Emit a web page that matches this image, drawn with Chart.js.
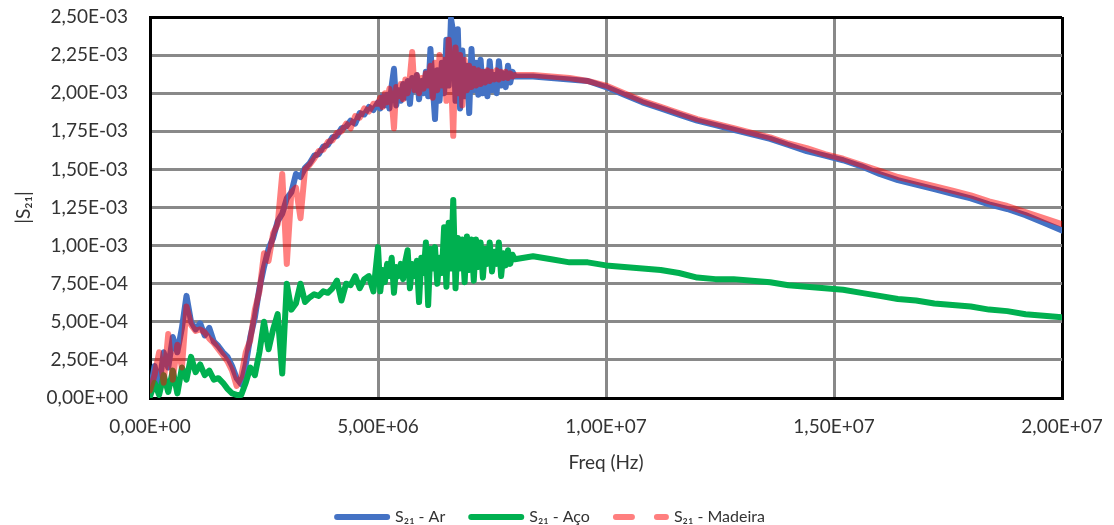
<!DOCTYPE html>
<html>
<head>
<meta charset="utf-8">
<script src="https://cdn.jsdelivr.net/npm/chart.js@4.4.1/dist/chart.umd.min.js"></script>
<style>
  html, body { margin: 0; padding: 0; background: #fff; }
  #wrap { width: 1114px; height: 525px; position: relative; }
</style>
</head>
<body>
<div id="wrap"><canvas id="chart"></canvas></div>
<script>
// frequency in MHz (axis labels are printed in Hz)
const freqMHz = [
  0.0, 0.1, 0.2, 0.3, 0.4, 0.5, 0.6, 0.7, 0.8, 0.9,
  1.0, 1.1, 1.2, 1.3, 1.4, 1.5, 1.6, 1.7, 1.8, 1.9,
  2.0, 2.1, 2.2, 2.3, 2.4, 2.5, 2.6, 2.7, 2.8, 2.9,
  3.0, 3.1, 3.2, 3.3, 3.4, 3.5, 3.6, 3.7, 3.8, 3.9,
  4.0, 4.1, 4.2, 4.3, 4.4, 4.5, 4.6, 4.7, 4.8, 4.9,
  5.00, 5.05, 5.10, 5.15, 5.20, 5.25, 5.30, 5.35, 5.40, 5.45,
  5.50, 5.55, 5.60, 5.65, 5.70, 5.75, 5.80, 5.85, 5.90, 5.95,
  6.00, 6.05, 6.10, 6.15, 6.20, 6.25, 6.30, 6.35, 6.40, 6.45,
  6.50, 6.55, 6.60, 6.65, 6.70, 6.75, 6.80, 6.85, 6.90, 6.95,
  7.00, 7.05, 7.10, 7.15, 7.20, 7.25, 7.30, 7.35, 7.40, 7.45,
  7.50, 7.55, 7.60, 7.65, 7.70, 7.75, 7.80, 7.85, 7.90, 7.95,
  8.00,
  8.4, 8.8, 9.2, 9.6, 10.0, 10.4, 10.8, 11.2, 11.6,
  12.0, 12.4, 12.8, 13.2, 13.6, 14.0, 14.4, 14.8, 15.2, 15.6,
  16.0, 16.4, 16.8, 17.2, 17.6, 18.0, 18.4, 18.8, 19.2, 19.6,
  20.0
];

// |S21| in units of 1e-3
const s21Ar = [
  0.03, 0.21, 0.08, 0.30, 0.20, 0.40, 0.30, 0.46, 0.67, 0.50,
  0.45, 0.49, 0.41, 0.46, 0.37, 0.34, 0.30, 0.27, 0.21, 0.13,
  0.09, 0.22, 0.40, 0.53, 0.72, 0.86, 0.98, 1.05, 1.16, 1.21,
  1.31, 1.35, 1.47, 1.45, 1.51, 1.54, 1.59, 1.60, 1.65, 1.66,
  1.71, 1.72, 1.77, 1.78, 1.82, 1.80, 1.87, 1.86, 1.91, 1.89,
  1.94, 1.90, 1.98, 1.92, 1.99, 1.90, 2.05, 2.16, 1.92, 2.02,
  1.95, 2.06, 1.97, 2.08, 1.93, 2.10, 2.02, 2.12, 1.96, 2.08,
  2.00, 2.14, 1.98, 2.29, 2.05, 1.83, 2.15, 1.95, 2.20, 2.00,
  2.35, 2.05, 2.49, 2.40, 1.95, 2.42, 1.90, 2.28, 1.98, 2.18,
  1.87, 2.29, 2.02, 2.20, 1.99, 2.22, 2.00, 2.14, 1.98, 2.21,
  2.02, 2.12, 2.00, 2.21, 2.05, 2.13, 2.04, 2.18, 2.07, 2.14,
  2.11,
  2.11, 2.10, 2.09, 2.08, 2.04, 1.99, 1.94, 1.90, 1.86,
  1.82, 1.79, 1.76, 1.73, 1.70, 1.66, 1.62, 1.59, 1.56, 1.52,
  1.47, 1.43, 1.40, 1.37, 1.34, 1.31, 1.27, 1.24, 1.20, 1.15,
  1.10
];

const s21Aco = [
  0.01, 0.10, 0.02, 0.15, 0.04, 0.18, 0.03, 0.20, 0.12, 0.27,
  0.17, 0.22, 0.15, 0.18, 0.12, 0.13, 0.10, 0.06, 0.03, 0.02,
  0.02, 0.10, 0.20, 0.15, 0.30, 0.50, 0.32, 0.45, 0.55, 0.16,
  0.75, 0.58, 0.62, 0.75, 0.63, 0.66, 0.68, 0.67, 0.70, 0.69,
  0.72, 0.77, 0.64, 0.75, 0.74, 0.80, 0.72, 0.78, 0.80, 0.70,
  0.99, 0.70, 0.84, 0.76, 0.88, 0.80, 0.92, 0.69, 0.86, 0.80,
  0.88, 0.78, 0.90, 0.97, 0.72, 0.88, 0.80, 0.90, 0.63, 0.92,
  0.82, 1.02, 0.61, 0.98, 0.85, 0.99, 0.75, 0.92, 0.82, 1.12,
  0.73, 1.15, 0.85, 1.30, 0.72, 1.05, 0.85, 1.04, 0.76, 1.06,
  0.84, 1.04, 0.77, 1.04, 0.86, 1.02, 0.79, 0.98, 0.88, 1.02,
  0.83, 0.96, 0.88, 1.02, 0.80, 0.95, 0.87, 0.97, 0.88, 0.94,
  0.91,
  0.93, 0.91, 0.89, 0.89, 0.87, 0.86, 0.85, 0.84, 0.82,
  0.79, 0.78, 0.78, 0.77, 0.76, 0.74, 0.73, 0.72, 0.71, 0.69,
  0.67, 0.65, 0.64, 0.62, 0.61, 0.60, 0.58, 0.57, 0.55, 0.54,
  0.53
];

const s21Madeira = [
  0.05, 0.15, 0.30, 0.10, 0.42, 0.12, 0.35, 0.20, 0.60, 0.48,
  0.44, 0.45, 0.43, 0.39, 0.36, 0.32, 0.28, 0.24, 0.18, 0.08,
  0.14, 0.30, 0.38, 0.58, 0.70, 0.95, 0.90, 1.08, 1.14, 1.47,
  0.88, 1.35, 1.38, 1.18, 1.50, 1.53, 1.57, 1.62, 1.63, 1.68,
  1.69, 1.74, 1.75, 1.80, 1.77, 1.85, 1.84, 1.90, 1.88, 1.93,
  1.93, 1.97, 1.91, 2.00, 1.94, 2.03, 1.96, 1.77, 2.04, 1.98,
  2.06, 1.96, 2.09, 2.00, 2.11, 2.27, 2.02, 2.12, 2.00, 2.10,
  2.03, 2.13, 2.05, 2.18, 1.97, 2.20, 2.02, 2.25, 2.05, 2.22,
  1.95, 2.35, 2.12, 1.72, 2.30, 2.00, 2.25, 1.92, 2.22, 2.02,
  2.18, 2.04, 2.16, 2.05, 2.15, 2.06, 2.14, 2.07, 2.15, 2.08,
  2.14, 2.09, 2.15, 2.09, 2.14, 2.10, 2.14, 2.10, 2.13, 2.11,
  2.12,
  2.12, 2.11, 2.10, 2.08, 2.05, 2.00, 1.95, 1.91, 1.87,
  1.83, 1.80, 1.77, 1.74, 1.71, 1.67, 1.64, 1.60, 1.57, 1.53,
  1.49, 1.45, 1.42, 1.39, 1.36, 1.33, 1.29, 1.26, 1.22, 1.18,
  1.14
];

const seriesNames = ["S\u2082\u2081 - Ar", "S\u2082\u2081 - A\u00e7o", "S\u2082\u2081 - Madeira"];

// Excel style: 2,50E-03
function fmtSci(v) {
  const [m, e] = v.toExponential(2).split("e");
  const n = Number(e);
  return m.replace(".", ",") + "E" + (n < 0 ? "-" : "+") + String(Math.abs(n)).padStart(2, "0");
}

const pts = (ys) => freqMHz.map((f, i) => ({ x: f, y: ys[i] }));

const FONT = "Lato";
const gridColor = (max) => (c) => (c.tick && (c.tick.value === max || c.tick.value === 0) ? "#000" : "#898989");

const lineStyle = { borderWidth: 6, borderCapStyle: "round", borderJoinStyle: "round", pointRadius: 0, tension: 0 };

const ctx = document.getElementById("chart").getContext("2d");
new Chart(ctx, {
  type: "line",
  data: {
    datasets: [
      { label: seriesNames[0], data: pts(s21Ar), borderColor: "#4472C4", backgroundColor: "#4472C4", order: 2, ...lineStyle },
      { label: seriesNames[1], data: pts(s21Aco), borderColor: "#00B050", backgroundColor: "#00B050", order: 1, ...lineStyle },
      { label: seriesNames[2], data: pts(s21Madeira), borderColor: "rgba(255,0,0,0.5)", backgroundColor: "rgba(255,0,0,0.5)", order: 0, ...lineStyle },
    ],
  },
  options: {
    responsive: true,
    maintainAspectRatio: false,
    animation: false,
    layout: { padding: { top: 17, right: 52, left: 40, bottom: -10 } },
    plugins: {
      tooltip: { enabled: false },
      legend: {
        position: "bottom",
        labels: {
          font: { family: FONT, size: 16 },
          color: "#333",
          usePointStyle: true,
          pointStyle: "line",
          pointStyleWidth: 50,
          padding: 26,
          sort: (a, b) => a.datasetIndex - b.datasetIndex,
          generateLabels: (chart) => {
            const items = Chart.defaults.plugins.legend.labels.generateLabels(chart);
            items.forEach((it) => {
              it.pointStyle = "line";
              it.lineCap = "round";
              if (it.datasetIndex === 2) it.lineDash = [16, 25];
            });
            return items;
          },
        },
      },
    },
    scales: {
      x: {
        type: "linear",
        min: 0,
        max: 20,
        ticks: { stepSize: 5, padding: 17, color: "#333", font: { family: FONT, size: 19 }, callback: (v) => fmtSci(v * 1e6) },
        grid: { color: gridColor(20), lineWidth: 3, drawTicks: false },
        border: { color: "#000", width: 3 },
        title: { display: true, text: "Freq (Hz)", color: "#333", font: { family: FONT, size: 19 }, padding: { top: 6, bottom: 9 } },
        afterFit: (s) => { s.height = 85; s.paddingLeft = 0; s.paddingRight = 0; },
      },
      y: {
        min: 0,
        max: 2.5,
        ticks: { stepSize: 0.25, padding: 22, color: "#333", font: { family: FONT, size: 19 }, callback: (v) => fmtSci(v * 1e-3) },
        grid: { color: gridColor(2.5), lineWidth: 3, drawTicks: false },
        border: { color: "#000", width: 3 },
        title: { display: true, text: "|S\u2082\u2081|", color: "#333", font: { family: FONT, size: 19 }, padding: { top: -28, bottom: 0 } },
        afterFit: (s) => { s.width = 110; s.paddingTop = 0; s.paddingBottom = 0; },
      },
    },
  },
});
</script>
</body>
</html>
